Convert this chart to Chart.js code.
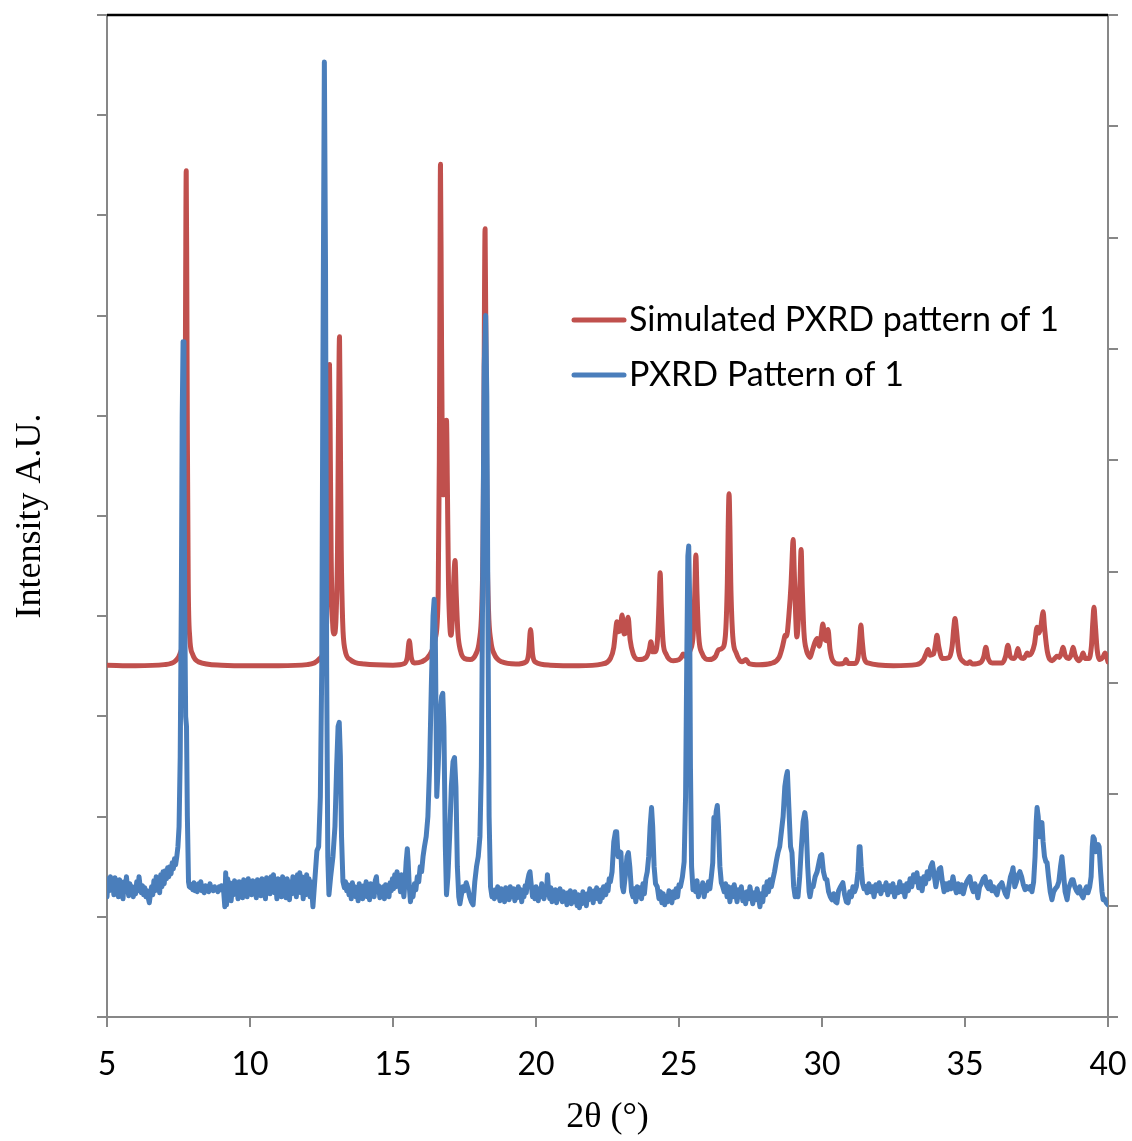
<!DOCTYPE html>
<html>
<head>
<meta charset="utf-8">
<script src="https://cdn.jsdelivr.net/npm/chart.js@4.4.1/dist/chart.umd.min.js"></script>
<style>
  html, body { margin: 0; padding: 0; background: #fff; }
  #wrap { position: relative; width: 1132px; height: 1141px; }
</style>
</head>
<body>
<div id="wrap"><canvas id="chart"></canvas></div>
<script>
// series labels
const seriesNames = ['Simulated PXRD pattern of 1', 'PXRD Pattern of 1'];

// simulated pattern, [2theta, intensity] (right axis)
const simulatedScan = [
  [5.00, 3160], [6.00, 3155], [7.00, 3165], [7.40, 3200], [7.55, 3260], [7.65, 3420], [7.70, 3900],
  [7.73, 5200], [7.75, 6600], [7.77, 7600], [7.79, 6600], [7.81, 5200], [7.84, 3900], [7.89, 3420],
  [7.99, 3260], [8.20, 3190], [9.00, 3160], [10.00, 3155], [11.00, 3155], [12.00, 3165], [12.40, 3210],
  [12.58, 3300], [12.68, 3550], [12.72, 4100], [12.75, 5000], [12.78, 5860], [12.81, 5000], [12.84, 4100],
  [12.88, 3600], [12.93, 3440], [12.97, 3450], [13.01, 3600], [13.06, 4200], [13.09, 5200], [13.13, 6110],
  [13.16, 5200], [13.19, 4200], [13.24, 3550], [13.32, 3300], [13.50, 3210], [14.00, 3170], [15.00, 3160],
  [15.40, 3175], [15.50, 3230], [15.57, 3380], [15.64, 3230], [15.75, 3180], [16.00, 3190], [16.30, 3260],
  [16.48, 3400], [16.58, 3800], [16.62, 5000], [16.64, 6400], [16.66, 7660], [16.69, 6400], [16.72, 5200],
  [16.76, 4690], [16.80, 4900], [16.84, 5300], [16.87, 5360], [16.90, 4800], [16.94, 3900], [16.99, 3500],
  [17.03, 3430], [17.08, 3600], [17.12, 3900], [17.17, 4100], [17.21, 3800], [17.27, 3450], [17.36, 3290],
  [17.50, 3220], [17.70, 3210], [17.90, 3260], [18.02, 3380], [18.10, 3650], [18.15, 4300], [18.18, 5500],
  [18.22, 7080], [18.26, 5500], [18.29, 4300], [18.34, 3650], [18.42, 3380], [18.54, 3260], [18.80, 3190],
  [19.30, 3170], [19.65, 3190], [19.74, 3260], [19.81, 3480], [19.88, 3260], [19.97, 3190], [20.50, 3160],
  [21.50, 3155], [22.30, 3170], [22.60, 3220], [22.72, 3320], [22.78, 3460], [22.83, 3550], [22.88, 3460],
  [22.94, 3470], [23.01, 3610], [23.08, 3440], [23.14, 3450], [23.22, 3590], [23.29, 3390], [23.40, 3260],
  [23.60, 3210], [23.85, 3230], [23.96, 3300], [24.02, 3370], [24.08, 3280], [24.16, 3280], [24.25, 3400],
  [24.30, 3700], [24.34, 3990], [24.38, 3700], [24.44, 3380], [24.55, 3260], [24.80, 3200], [25.00, 3210],
  [25.10, 3240], [25.14, 3260], [25.20, 3240], [25.40, 3300], [25.50, 3450], [25.55, 3800], [25.59, 4150],
  [25.63, 3800], [25.69, 3420], [25.80, 3270], [26.05, 3210], [26.28, 3240], [26.36, 3290], [26.40, 3300],
  [26.50, 3310], [26.62, 3420], [26.69, 3900], [26.72, 4400], [26.75, 4700], [26.78, 4400], [26.81, 3900],
  [26.88, 3420], [27.00, 3270], [27.20, 3190], [27.34, 3210], [27.45, 3175], [27.80, 3165], [28.20, 3175],
  [28.50, 3230], [28.62, 3330], [28.68, 3400], [28.71, 3430], [28.76, 3420], [28.84, 3600], [28.92, 3900],
  [28.96, 4150], [28.99, 4290], [29.03, 4000], [29.08, 3600], [29.12, 3414], [29.18, 3600], [29.23, 3900],
  [29.27, 4200], [29.31, 3850], [29.37, 3450], [29.46, 3290], [29.50, 3260], [29.58, 3230], [29.66, 3290],
  [29.76, 3370], [29.83, 3400], [29.90, 3330], [29.97, 3420], [30.03, 3530], [30.09, 3400], [30.15, 3380],
  [30.21, 3480], [30.28, 3300], [30.38, 3200], [30.60, 3170], [30.78, 3180], [30.84, 3210], [30.92, 3175],
  [31.15, 3175], [31.26, 3230], [31.32, 3400], [31.36, 3520], [31.40, 3400], [31.47, 3230], [31.60, 3180],
  [32.50, 3155], [33.30, 3165], [33.55, 3210], [33.65, 3270], [33.71, 3300], [33.78, 3250], [33.90, 3260],
  [33.97, 3350], [34.02, 3430], [34.08, 3330], [34.20, 3220], [34.45, 3230], [34.55, 3330], [34.61, 3500],
  [34.65, 3580], [34.70, 3480], [34.78, 3280], [34.95, 3190], [35.10, 3175], [35.17, 3190], [35.26, 3170],
  [35.55, 3185], [35.66, 3240], [35.73, 3320], [35.80, 3230], [35.95, 3180], [36.30, 3180], [36.42, 3240],
  [36.50, 3340], [36.58, 3240], [36.70, 3220], [36.79, 3250], [36.85, 3310], [36.92, 3240], [37.05, 3220],
  [37.13, 3250], [37.17, 3270], [37.23, 3250], [37.33, 3270], [37.43, 3350], [37.52, 3500], [37.59, 3450],
  [37.65, 3500], [37.70, 3600], [37.73, 3640], [37.78, 3500], [37.88, 3280], [38.05, 3200], [38.17, 3230],
  [38.22, 3240], [38.30, 3230], [38.37, 3270], [38.43, 3320], [38.50, 3250], [38.62, 3220], [38.72, 3260],
  [38.78, 3320], [38.85, 3250], [38.98, 3200], [39.07, 3230], [39.13, 3270], [39.20, 3220], [39.33, 3220],
  [39.42, 3330], [39.47, 3550], [39.51, 3680], [39.55, 3550], [39.62, 3300], [39.72, 3210], [39.82, 3230],
  [39.90, 3270], [39.96, 3230], [40.00, 3190]
];

// measured pattern, [2theta, intensity] (left axis)
const measuredScan = [
  [5.00, 1200], [5.04, 1380], [5.08, 1260], [5.12, 1400], [5.16, 1290], [5.20, 1360], [5.24, 1220],
  [5.28, 1390], [5.32, 1250], [5.36, 1330], [5.40, 1200], [5.44, 1370], [5.48, 1240], [5.52, 1300],
  [5.56, 1180], [5.60, 1350], [5.64, 1260], [5.68, 1400], [5.72, 1280], [5.76, 1210], [5.80, 1330],
  [5.84, 1250], [5.88, 1300], [5.92, 1200], [5.96, 1280], [6.00, 1230], [6.04, 1350], [6.08, 1260],
  [6.12, 1400], [6.16, 1300], [6.20, 1240], [6.24, 1310], [6.28, 1220], [6.32, 1290], [6.36, 1200],
  [6.40, 1260], [6.44, 1190], [6.48, 1140], [6.52, 1230], [6.56, 1300], [6.60, 1220], [6.64, 1360],
  [6.68, 1260], [6.72, 1400], [6.76, 1270], [6.80, 1330], [6.84, 1240], [6.88, 1420], [6.92, 1300],
  [6.96, 1450], [7.00, 1330], [7.04, 1460], [7.08, 1380], [7.12, 1490], [7.16, 1400], [7.20, 1500],
  [7.24, 1430], [7.28, 1540], [7.32, 1480], [7.36, 1580], [7.40, 1520], [7.44, 1600], [7.48, 1700],
  [7.52, 1900], [7.56, 2600], [7.60, 4200], [7.63, 6000], [7.66, 6740], [7.69, 5800], [7.72, 4000],
  [7.75, 3000], [7.78, 2900], [7.81, 2000], [7.85, 1350], [7.88, 1300], [7.92, 1290], [7.96, 1320],
  [8.00, 1270], [8.04, 1340], [8.08, 1260], [8.12, 1300], [8.16, 1250], [8.20, 1330], [8.24, 1280],
  [8.28, 1350], [8.32, 1260], [8.36, 1290], [8.40, 1240], [8.44, 1310], [8.48, 1270], [8.52, 1300],
  [8.56, 1250], [8.60, 1330], [8.64, 1270], [8.68, 1290], [8.72, 1260], [8.76, 1300], [8.80, 1270],
  [8.84, 1280], [8.88, 1250], [8.92, 1300], [8.96, 1270], [9.00, 1310], [9.04, 1280], [9.08, 1250],
  [9.12, 1100], [9.15, 1440], [9.18, 1120], [9.22, 1380], [9.26, 1200], [9.30, 1340], [9.34, 1160],
  [9.38, 1300], [9.42, 1220], [9.46, 1360], [9.50, 1240], [9.54, 1320], [9.58, 1180], [9.62, 1350],
  [9.66, 1250], [9.70, 1300], [9.74, 1190], [9.78, 1370], [9.82, 1260], [9.86, 1320], [9.90, 1200],
  [9.94, 1380], [9.98, 1280], [10.02, 1340], [10.06, 1220], [10.10, 1360], [10.14, 1250], [10.18, 1310],
  [10.22, 1190], [10.26, 1370], [10.30, 1270], [10.34, 1330], [10.38, 1210], [10.42, 1380], [10.46, 1260],
  [10.50, 1320], [10.54, 1180], [10.58, 1390], [10.62, 1280], [10.66, 1340], [10.70, 1230], [10.74, 1400],
  [10.78, 1290], [10.82, 1420], [10.86, 1240], [10.90, 1350], [10.94, 1180], [10.98, 1380], [11.02, 1250],
  [11.06, 1330], [11.10, 1200], [11.14, 1400], [11.18, 1270], [11.22, 1360], [11.26, 1190], [11.30, 1380],
  [11.34, 1260], [11.38, 1170], [11.42, 1350], [11.46, 1230], [11.50, 1400], [11.54, 1280], [11.58, 1360],
  [11.62, 1200], [11.66, 1420], [11.70, 1300], [11.74, 1440], [11.78, 1240], [11.82, 1400], [11.86, 1180],
  [11.90, 1360], [11.94, 1220], [11.98, 1420], [12.02, 1300], [12.06, 1380], [12.10, 1200], [12.14, 1350],
  [12.20, 1100], [12.30, 1500], [12.34, 1660], [12.40, 1700], [12.46, 2200], [12.51, 3500], [12.55, 6500],
  [12.60, 9530], [12.64, 7500], [12.68, 3500], [12.72, 1600], [12.76, 1220], [12.82, 1400], [12.90, 1600],
  [12.97, 1900], [13.03, 2500], [13.08, 2900], [13.12, 2940], [13.16, 2600], [13.20, 1800], [13.25, 1350],
  [13.30, 1290], [13.34, 1350], [13.38, 1260], [13.42, 1320], [13.46, 1220], [13.50, 1300], [13.54, 1180],
  [13.58, 1340], [13.62, 1240], [13.66, 1300], [13.70, 1200], [13.74, 1280], [13.78, 1160], [13.82, 1330],
  [13.86, 1230], [13.90, 1290], [13.94, 1180], [13.98, 1310], [14.02, 1250], [14.06, 1350], [14.10, 1200],
  [14.14, 1290], [14.18, 1170], [14.22, 1330], [14.26, 1240], [14.30, 1280], [14.34, 1200], [14.38, 1360],
  [14.42, 1400], [14.46, 1250], [14.50, 1310], [14.54, 1190], [14.58, 1280], [14.62, 1220], [14.66, 1300],
  [14.70, 1180], [14.74, 1320], [14.78, 1240], [14.82, 1290], [14.86, 1200], [14.90, 1340], [14.94, 1260],
  [14.98, 1380], [15.02, 1280], [15.06, 1420], [15.10, 1300], [15.14, 1450], [15.18, 1330], [15.22, 1380],
  [15.26, 1250], [15.30, 1420], [15.34, 1300], [15.38, 1200], [15.42, 1350], [15.46, 1550], [15.50, 1680],
  [15.53, 1550], [15.57, 1300], [15.61, 1150], [15.65, 1250], [15.70, 1200], [15.75, 1330], [15.80, 1270],
  [15.85, 1400], [15.90, 1350], [15.95, 1500], [16.00, 1450], [16.05, 1600], [16.10, 1700], [16.16, 1800],
  [16.22, 2000], [16.28, 2500], [16.34, 3300], [16.40, 4000], [16.44, 4170], [16.48, 3800], [16.53, 2200],
  [16.58, 2500], [16.64, 3000], [16.70, 3200], [16.74, 3230], [16.78, 2900], [16.83, 1700], [16.87, 1220],
  [16.92, 1400], [16.98, 1800], [17.04, 2300], [17.10, 2550], [17.15, 2590], [17.20, 2300], [17.25, 1500],
  [17.30, 1200], [17.34, 1130], [17.38, 1200], [17.44, 1300], [17.50, 1260], [17.56, 1340], [17.62, 1280],
  [17.68, 1200], [17.74, 1150], [17.80, 1120], [17.86, 1350], [17.92, 1500], [17.98, 1600], [18.04, 1800],
  [18.09, 2500], [18.14, 4500], [18.19, 6500], [18.24, 7000], [18.28, 6200], [18.32, 4000], [18.36, 2000],
  [18.41, 1300], [18.46, 1200], [18.50, 1260], [18.54, 1180], [18.58, 1270], [18.62, 1200], [18.66, 1300],
  [18.70, 1230], [18.74, 1160], [18.78, 1280], [18.82, 1210], [18.86, 1250], [18.90, 1150], [18.94, 1290],
  [18.98, 1220], [19.02, 1270], [19.06, 1170], [19.10, 1300], [19.14, 1240], [19.18, 1200], [19.22, 1280],
  [19.26, 1160], [19.30, 1250], [19.34, 1190], [19.38, 1300], [19.42, 1230], [19.46, 1270], [19.50, 1150],
  [19.54, 1260], [19.58, 1200], [19.62, 1310], [19.66, 1240], [19.70, 1350], [19.75, 1420], [19.79, 1450],
  [19.83, 1330], [19.88, 1200], [19.92, 1280], [19.96, 1180], [20.00, 1300], [20.04, 1230], [20.08, 1160],
  [20.12, 1280], [20.16, 1200], [20.20, 1330], [20.24, 1250], [20.28, 1180], [20.32, 1300], [20.36, 1220],
  [20.40, 1420], [20.44, 1260], [20.48, 1180], [20.52, 1290], [20.56, 1150], [20.60, 1260], [20.64, 1190],
  [20.68, 1270], [20.72, 1140], [20.76, 1250], [20.80, 1180], [20.84, 1280], [20.88, 1200], [20.92, 1150],
  [20.96, 1250], [21.00, 1170], [21.04, 1230], [21.08, 1120], [21.12, 1240], [21.16, 1180], [21.20, 1260],
  [21.24, 1130], [21.28, 1220], [21.32, 1150], [21.36, 1250], [21.40, 1170], [21.44, 1110], [21.48, 1220],
  [21.52, 1090], [21.56, 1200], [21.60, 1130], [21.64, 1250], [21.68, 1160], [21.72, 1220], [21.76, 1110],
  [21.80, 1230], [21.84, 1170], [21.88, 1280], [21.92, 1180], [21.96, 1250], [22.00, 1140], [22.04, 1260],
  [22.08, 1200], [22.12, 1290], [22.16, 1180], [22.20, 1250], [22.24, 1150], [22.28, 1270], [22.32, 1190],
  [22.36, 1300], [22.40, 1300], [22.44, 1220], [22.48, 1320], [22.52, 1260], [22.56, 1380], [22.60, 1350],
  [22.66, 1450], [22.72, 1750], [22.78, 1850], [22.82, 1850], [22.87, 1600], [22.92, 1650], [22.97, 1640],
  [23.02, 1300], [23.06, 1250], [23.12, 1400], [23.18, 1600], [23.23, 1640], [23.28, 1500], [23.34, 1250],
  [23.39, 1200], [23.44, 1280], [23.49, 1150], [23.54, 1300], [23.59, 1200], [23.64, 1290], [23.69, 1180],
  [23.74, 1330], [23.79, 1230], [23.84, 1380], [23.89, 1450], [23.94, 1600], [23.99, 1900], [24.04, 2090],
  [24.08, 1900], [24.13, 1500], [24.18, 1330], [24.24, 1300], [24.30, 1180], [24.35, 1250], [24.40, 1140],
  [24.45, 1230], [24.50, 1120], [24.55, 1200], [24.60, 1150], [24.65, 1260], [24.70, 1180], [24.75, 1140],
  [24.80, 1250], [24.85, 1190], [24.90, 1280], [24.95, 1200], [25.00, 1320], [25.05, 1300], [25.12, 1400],
  [25.18, 1550], [25.23, 2200], [25.27, 3500], [25.31, 4600], [25.34, 4700], [25.37, 4200], [25.40, 2500],
  [25.44, 1500], [25.49, 1270], [25.54, 1330], [25.58, 1250], [25.63, 1360], [25.68, 1200], [25.73, 1300],
  [25.78, 1250], [25.83, 1340], [25.88, 1200], [25.93, 1310], [25.98, 1260], [26.03, 1350], [26.08, 1280],
  [26.13, 1400], [26.18, 1540], [26.22, 1990], [26.26, 1900], [26.30, 2050], [26.34, 2110], [26.38, 1900],
  [26.43, 1500], [26.48, 1340], [26.53, 1300], [26.58, 1250], [26.63, 1330], [26.68, 1200], [26.73, 1300],
  [26.78, 1150], [26.83, 1290], [26.88, 1200], [26.93, 1320], [26.98, 1240], [27.03, 1150], [27.08, 1270],
  [27.13, 1200], [27.18, 1300], [27.23, 1160], [27.28, 1240], [27.33, 1130], [27.38, 1250], [27.43, 1180],
  [27.48, 1300], [27.53, 1210], [27.58, 1130], [27.63, 1240], [27.68, 1170], [27.73, 1280], [27.78, 1200],
  [27.83, 1100], [27.88, 1230], [27.93, 1150], [27.98, 1300], [28.03, 1220], [28.08, 1350], [28.13, 1250],
  [28.18, 1370], [28.23, 1300], [28.28, 1370], [28.34, 1450], [28.40, 1550], [28.46, 1640], [28.52, 1700],
  [28.58, 1850], [28.64, 2000], [28.70, 2300], [28.75, 2400], [28.79, 2450], [28.84, 2100], [28.90, 1700],
  [28.95, 1640], [29.01, 1300], [29.06, 1200], [29.11, 1250], [29.16, 1200], [29.22, 1400], [29.28, 1700],
  [29.34, 1950], [29.40, 2040], [29.44, 1950], [29.50, 1500], [29.55, 1250], [29.58, 1200], [29.64, 1300],
  [29.69, 1300], [29.76, 1400], [29.83, 1450], [29.90, 1550], [29.95, 1610], [29.99, 1620], [30.05, 1450],
  [30.11, 1380], [30.17, 1370], [30.23, 1250], [30.29, 1200], [30.35, 1170], [30.41, 1230], [30.47, 1150],
  [30.52, 1140], [30.58, 1260], [30.65, 1300], [30.73, 1340], [30.79, 1220], [30.85, 1150], [30.91, 1140],
  [30.97, 1250], [31.03, 1200], [31.08, 1300], [31.14, 1250], [31.20, 1300], [31.26, 1450], [31.30, 1700],
  [31.33, 1700], [31.37, 1500], [31.42, 1330], [31.47, 1280], [31.52, 1300], [31.58, 1240], [31.64, 1330],
  [31.70, 1250], [31.76, 1300], [31.82, 1200], [31.88, 1320], [31.94, 1260], [32.00, 1340], [32.06, 1230],
  [32.12, 1300], [32.18, 1270], [32.24, 1340], [32.30, 1220], [32.36, 1310], [32.42, 1250], [32.48, 1330],
  [32.54, 1200], [32.60, 1290], [32.66, 1240], [32.72, 1350], [32.78, 1250], [32.84, 1310], [32.90, 1200],
  [32.96, 1330], [33.02, 1260], [33.08, 1380], [33.14, 1300], [33.20, 1420], [33.26, 1350], [33.32, 1440],
  [33.38, 1290], [33.44, 1380], [33.50, 1260], [33.56, 1400], [33.62, 1330], [33.68, 1450], [33.74, 1380],
  [33.80, 1500], [33.86, 1540], [33.92, 1420], [33.98, 1300], [34.04, 1400], [34.10, 1480], [34.15, 1490],
  [34.21, 1350], [34.27, 1250], [34.33, 1330], [34.39, 1270], [34.45, 1340], [34.51, 1280], [34.58, 1400],
  [34.64, 1300], [34.70, 1240], [34.76, 1330], [34.82, 1250], [34.88, 1320], [34.94, 1230], [35.00, 1300],
  [35.06, 1350], [35.12, 1380], [35.17, 1400], [35.23, 1300], [35.29, 1250], [35.35, 1330], [35.41, 1260],
  [35.45, 1190], [35.51, 1300], [35.57, 1330], [35.64, 1380], [35.70, 1400], [35.76, 1310], [35.82, 1280],
  [35.88, 1350], [35.94, 1260], [36.00, 1300], [36.06, 1250], [36.12, 1220], [36.18, 1300], [36.24, 1320],
  [36.29, 1340], [36.35, 1280], [36.41, 1230], [36.47, 1200], [36.53, 1300], [36.59, 1400], [36.65, 1450],
  [36.68, 1490], [36.74, 1300], [36.80, 1350], [36.86, 1420], [36.92, 1450], [36.98, 1400], [37.04, 1320],
  [37.10, 1270], [37.16, 1300], [37.22, 1280], [37.28, 1300], [37.34, 1250], [37.40, 1350], [37.45, 1600],
  [37.49, 1950], [37.52, 2090], [37.56, 2000], [37.60, 1800], [37.65, 1900], [37.69, 1940], [37.73, 1750],
  [37.78, 1600], [37.83, 1550], [37.87, 1540], [37.92, 1400], [37.98, 1250], [38.04, 1170], [38.10, 1250],
  [38.16, 1280], [38.22, 1300], [38.28, 1350], [38.34, 1500], [38.39, 1600], [38.44, 1450], [38.50, 1250],
  [38.57, 1170], [38.62, 1280], [38.68, 1330], [38.73, 1370], [38.78, 1370], [38.84, 1300], [38.90, 1260],
  [38.95, 1240], [39.01, 1300], [39.07, 1220], [39.13, 1190], [39.19, 1260], [39.25, 1300], [39.30, 1240],
  [39.36, 1300], [39.41, 1400], [39.45, 1700], [39.48, 1800], [39.52, 1780], [39.57, 1650], [39.62, 1680],
  [39.66, 1720], [39.69, 1700], [39.74, 1450], [39.79, 1250], [39.83, 1170], [39.88, 1180], [39.94, 1140],
  [40.00, 1120]
];

// axis ranges
const xRange = [5, 40];
const leftRange = [0, 10000];
const rightRange = [0, 9000];

const RED = '#C0504D';
const BLUE = '#4A7EBB';
const AXIS_GREY = '#878787';

function toPoints(scan) {
  return scan.map(p => ({ x: p[0], y: p[1] }));
}

// legend inside the plot + black top edge
const overlayPlugin = {
  id: 'overlay',
  afterDraw(chart) {
    const ctx = chart.ctx;
    const area = chart.chartArea;
    ctx.save();
    ctx.strokeStyle = '#000';
    ctx.lineWidth = 2.5;
    ctx.beginPath();
    ctx.moveTo(area.left, area.top);
    ctx.lineTo(area.right, area.top);
    ctx.stroke();

    const rows = [
      { name: seriesNames[0], color: RED, y: 320 },
      { name: seriesNames[1], color: BLUE, y: 375 }
    ];
    ctx.font = '34px Lato';
    ctx.textBaseline = 'middle';
    ctx.lineCap = 'round';
    rows.forEach(r => {
      ctx.strokeStyle = r.color;
      ctx.lineWidth = 5;
      ctx.beginPath();
      ctx.moveTo(574, r.y);
      ctx.lineTo(624, r.y);
      ctx.stroke();
      ctx.fillStyle = '#000';
      ctx.fillText(r.name, 629, r.y);
    });
    ctx.restore();
  }
};

new Chart(document.getElementById('chart'), {
  type: 'line',
  data: {
    datasets: [
      {
        label: seriesNames[0],
        data: toPoints(simulatedScan),
        yAxisID: 'yRight',
        borderColor: RED,
        borderWidth: 5,
        pointRadius: 0,
        cubicInterpolationMode: 'monotone',
        borderJoinStyle: 'round',
        borderCapStyle: 'round',
        order: 1
      },
      {
        label: seriesNames[1],
        data: toPoints(measuredScan),
        yAxisID: 'yLeft',
        borderColor: BLUE,
        borderWidth: 5,
        pointRadius: 0,
        tension: 0,
        borderJoinStyle: 'round',
        borderCapStyle: 'round',
        order: 0
      }
    ]
  },
  plugins: [overlayPlugin],
  options: {
    responsive: true,
    maintainAspectRatio: false,
    animation: false,
    layout: { padding: { top: 15, left: 0, right: 0, bottom: 0 } },
    plugins: { legend: { display: false }, tooltip: { enabled: false } },
    scales: {
      x: {
        type: 'linear',
        min: xRange[0],
        max: xRange[1],
        ticks: { stepSize: 5, color: '#000', font: { family: 'Lato', size: 32 }, padding: 18, maxRotation: 0 },
        grid: { drawOnChartArea: false, color: AXIS_GREY, lineWidth: 2, tickLength: 10 },
        border: { color: AXIS_GREY, width: 2 },
        title: { display: true, text: '2θ (°)', color: '#000',
                 font: { family: 'Liberation Serif', size: 36 }, padding: { top: 0, bottom: 2 } },
        afterFit: s => { s.height = 124; s.paddingLeft = 0; s.paddingRight = 0; }
      },
      yLeft: {
        type: 'linear',
        position: 'left',
        min: leftRange[0],
        max: leftRange[1],
        ticks: { stepSize: 1000, display: false },
        grid: { drawOnChartArea: false, color: AXIS_GREY, lineWidth: 2, tickLength: 10 },
        border: { color: AXIS_GREY, width: 2 },
        title: { display: true, text: 'Intensity A.U.', color: '#000',
                 font: { family: 'Liberation Serif', size: 36 }, padding: { top: 9, bottom: 0 } },
        afterFit: s => { s.width = 107; }
      },
      yRight: {
        type: 'linear',
        position: 'right',
        min: rightRange[0],
        max: rightRange[1],
        ticks: { stepSize: 1000, display: false },
        grid: { drawOnChartArea: false, color: AXIS_GREY, lineWidth: 2, tickLength: 10 },
        border: { color: AXIS_GREY, width: 2 },
        afterFit: s => { s.width = 24; }
      }
    }
  }
});
</script>
</body>
</html>
